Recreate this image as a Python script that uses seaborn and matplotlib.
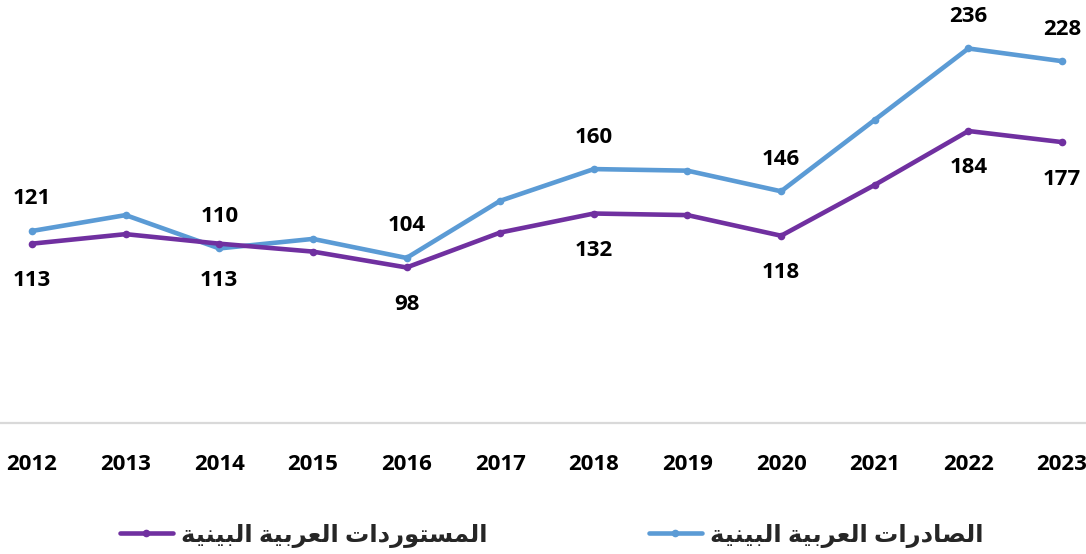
import matplotlib
matplotlib.use("Agg")
import matplotlib.pyplot as plt
import seaborn as sns
import pandas as pd
from matplotlib.lines import Line2D

# ---------------- data ----------------
years = ['2012', '2013', '2014', '2015', '2016', '2017', '2018', '2019', '2020', '2021', '2022', '2023']
exports = [121, 131, 110, 116, 104, 140, 160, 159, 146, 191, 236, 228]
imports = [113, 119, 113, 108, 98, 120, 132, 131, 118, 150, 184, 177]
labeled_years = ['2012', '2014', '2016', '2018', '2020', '2022', '2023']
series_names = ['الصادرات العربية البينية', 'المستوردات العربية البينية']

# ---------------- arabic shaping (matplotlib has no shaping) ----------------
FORMS = {  # iso, fin, ini, med
    '\u0627': ('\uFE8D', '\uFE8E', None, None),
    '\u0628': ('\uFE8F', '\uFE90', '\uFE91', '\uFE92'),
    '\u0629': ('\uFE93', '\uFE94', None, None),
    '\u062A': ('\uFE95', '\uFE96', '\uFE97', '\uFE98'),
    '\u062F': ('\uFEA9', '\uFEAA', None, None),
    '\u0631': ('\uFEAD', '\uFEAE', None, None),
    '\u0633': ('\uFEB1', '\uFEB2', '\uFEB3', '\uFEB4'),
    '\u0635': ('\uFEB9', '\uFEBA', '\uFEBB', '\uFEBC'),
    '\u0639': ('\uFEC9', '\uFECA', '\uFECB', '\uFECC'),
    '\u0644': ('\uFEDD', '\uFEDE', '\uFEDF', '\uFEE0'),
    '\u0645': ('\uFEE1', '\uFEE2', '\uFEE3', '\uFEE4'),
    '\u0646': ('\uFEE5', '\uFEE6', '\uFEE7', '\uFEE8'),
    '\u0648': ('\uFEED', '\uFEEE', None, None),
    '\u064A': ('\uFEF1', '\uFEF2', '\uFEF3', '\uFEF4'),
}


def shape(text):
    out = []
    n = len(text)
    for i, c in enumerate(text):
        if c not in FORMS:
            out.append(c)
            continue
        prev = text[i - 1] if i > 0 else None
        nxt = text[i + 1] if i < n - 1 else None
        jp = prev in FORMS and FORMS[prev][2] is not None
        jn = FORMS[c][2] is not None and nxt in FORMS
        iso, fin, ini, med = FORMS[c]
        if jp and jn:
            out.append(med)
        elif jp:
            out.append(fin)
        elif jn:
            out.append(ini)
        else:
            out.append(iso)
    return ''.join(out)[::-1]


# ---------------- figure ----------------
sns.set_theme(style="white")
FAM = ['Open Sans', 'DejaVu Sans']
plt.rcParams['font.family'] = FAM

W, H = 1086, 554
fig = plt.figure(figsize=(W / 100, H / 100), dpi=100)
ax = fig.add_axes([0, 1 - 423 / H, 1, 423 / H])

blue = '#5B9BD5'
purple = '#7030A0'

df = pd.DataFrame({
    'x': list(range(len(years))) * 2,
    'value': exports + imports,
    'series': [series_names[0]] * len(years) + [series_names[1]] * len(years),
})

sns.lineplot(data=df, x='x', y='value', hue='series',
             palette={series_names[0]: blue, series_names[1]: purple},
             marker='o', markersize=5.5, markeredgewidth=0, linewidth=3.3,
             legend=False, ax=ax, sort=False)

ppx = 1 / 1.389  # points per pixel at 100 dpi
for i, yr in enumerate(years):
    if yr in labeled_years:
        ax.annotate(str(exports[i]), (i, exports[i]), xytext=(0, 32 * ppx),
                    textcoords='offset points', ha='center', va='center',
                    fontsize=16, fontweight='bold', color='black')
        ax.annotate(str(imports[i]), (i, imports[i]), xytext=(0, -37 * ppx),
                    textcoords='offset points', ha='center', va='center',
                    fontsize=16, fontweight='bold', color='black')

step = (1062 - 32) / 11
ax.set_xlim(-32 / step, 11 + (W - 1062) / step)
ax.set_ylim(0, 423 / 1.587)

ax.set_xticks(range(len(years)))
ax.set_xticklabels(years, fontsize=16, fontweight='bold', color='black')
ax.tick_params(axis='x', length=0, pad=22)
ax.set_yticks([])
ax.set_xlabel('')
ax.set_ylabel('')
for s in ['top', 'left', 'right']:
    ax.spines[s].set_visible(False)
ax.spines['bottom'].set_color('#d9d9d9')
ax.spines['bottom'].set_linewidth(1.6)

# legends (two entries, RTL order)
def add_leg(color, name, right_px):
    h = Line2D([], [], color=color, lw=3.3, marker='o', markersize=5.5, markeredgewidth=0)
    leg = fig.legend([h], [shape(name)], loc='center right',
                     bbox_to_anchor=(right_px / W, 1 - 536 / H),
                     frameon=False, borderpad=0, borderaxespad=0,
                     handlelength=2.2, handletextpad=0.3,
                     prop={'size': 17.5, 'weight': 'bold', 'family': FAM})
    return leg

add_leg(purple, series_names[1], 487)
add_leg(blue, series_names[0], 983)

fig.savefig('out.png', dpi=100)
